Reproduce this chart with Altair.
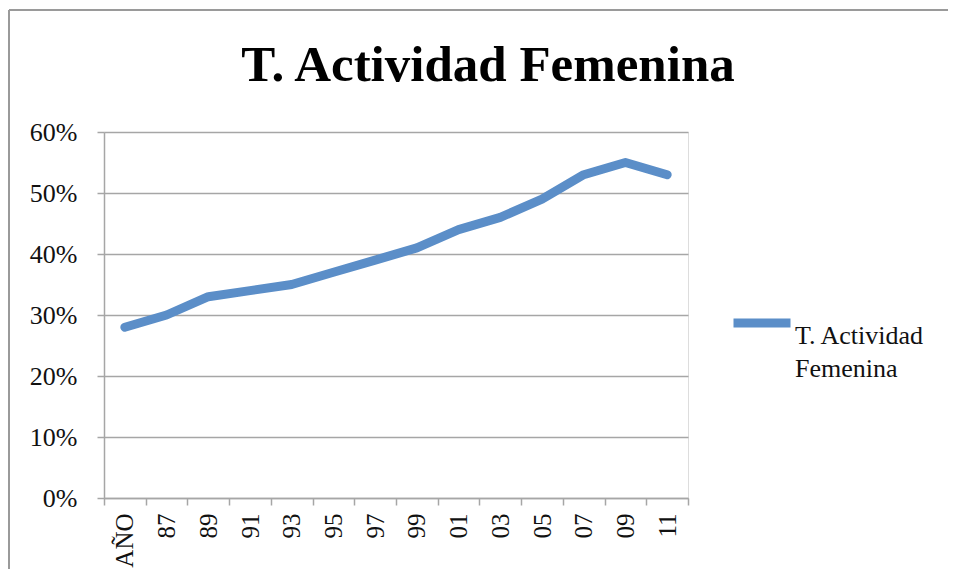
import altair as alt
import pandas as pd

years = ["AÑO", "87", "89", "91", "93", "95", "97", "99", "01", "03", "05", "07", "09", "11"]
values = [0.28, 0.30, 0.33, 0.34, 0.35, 0.37, 0.39, 0.41, 0.44, 0.46, 0.49, 0.53, 0.55, 0.53]
series_name = "T. Actividad Femenina"

df = pd.DataFrame({"year": years, "value": values, "series": [series_name] * len(years)})

FONT = "Liberation Serif"
BLUE = "#5B8EC8"
GRID = "#A6A6A6"

line = alt.Chart(df).mark_line(strokeWidth=9, strokeCap="round", strokeJoin="round").encode(
    x=alt.X("year:N", sort=years, bandPosition=0.5,
            scale=alt.Scale(type="band", paddingInner=0, paddingOuter=0),
            axis=alt.Axis(title=None, labelAngle=270, labelFontSize=25, labelFont=FONT,
                          labelColor="#111111", labelPadding=8, tickBand="extent",
                          tickSize=7, tickColor=GRID, domainColor=GRID, domainWidth=1.5,
                          tickWidth=1.5, grid=False)),
    y=alt.Y("value:Q", scale=alt.Scale(domain=[0, 0.6]),
            axis=alt.Axis(title=None, format=".0%", values=[0, 0.1, 0.2, 0.3, 0.4, 0.5, 0.6],
                          labelFontSize=26, labelFont=FONT, labelColor="#111111",
                          labelPadding=20, tickSize=7, tickColor=GRID, tickWidth=1.5,
                          domainColor=GRID, domainWidth=1.5, grid=True, gridColor=GRID,
                          gridWidth=1.5)),
    color=alt.Color("series:N", scale=alt.Scale(range=[BLUE]),
                    legend=alt.Legend(title=None, orient="none", legendX=625, legendY=158,
                                      symbolType="stroke", symbolStrokeWidth=9,
                                      symbolSize=3249, labelFont=FONT, labelFontSize=26,
                                      labelColor="#111111", labelOffset=0,
                                      labelBaseline="top", labelLimit=300,
                                      labelExpr="['T. Actividad', 'Femenina']")),
)

border_top = alt.Chart(df).mark_rule(color="#9A9A9A", strokeWidth=2).encode(
    x=alt.value(-95), x2=alt.value(900), y=alt.value(-122)
)
border_left = alt.Chart(df).mark_rule(color="#9A9A9A", strokeWidth=2).encode(
    x=alt.value(-95), y=alt.value(-122), y2=alt.value(450)
)

chart = alt.layer(border_top, border_left, line).properties(
    width=584, height=366,
    title=alt.TitleParams(series_name, font=FONT, fontSize=51, fontWeight="bold",
                          color="#000000", anchor="middle", dx=92, offset=-123,
                          baseline="alphabetic"),
    autosize=alt.AutoSizeParams(type="none"),
    padding={"left": 96, "top": 124, "right": 260, "bottom": 71},
).configure_view(stroke=None).configure(
    background="white",
    style={"guide-label": {"lineHeight": 33}},
)

chart.save("out.html", embed_options={"renderer": "svg", "actions": False})
